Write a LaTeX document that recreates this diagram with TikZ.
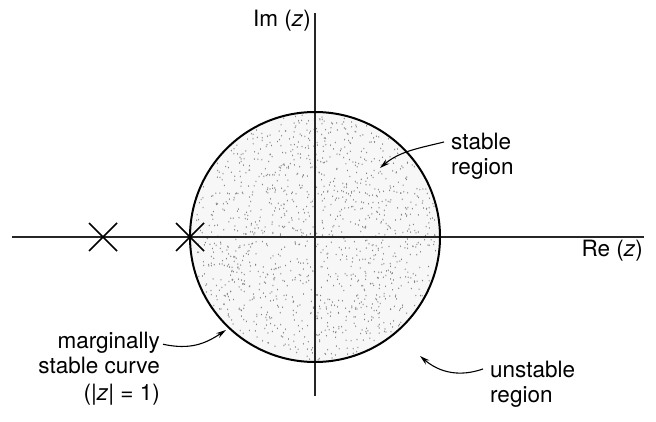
\documentclass[tikz,border=0pt]{standalone}
\usepackage{fontspec}
\setmainfont{TeX Gyre Heros}
\usetikzlibrary{arrows.meta,calc}
\begin{document}
\begin{tikzpicture}[x=1pt,y=-1pt,
  lbl/.style={font=\fontsize{22.5}{26}\selectfont, inner sep=0pt},
  axis/.style={line width=1.3pt, black!85},
  cross/.style={line width=1.5pt},
  pointer/.style={line width=1.1pt, -{Stealth[length=10pt,width=5.5pt]}}]
\useasboundingbox (0,0) rectangle (656,422);
% stippled disc
\fill[black!3] (315,237) circle (125);
\pgfmathsetseed{7}
\foreach \i in {1,...,1300}{
  \pgfmathsetmacro\rr{123*sqrt(rnd)}
  \pgfmathsetmacro\aa{360*rnd}
  \fill[black!50] ($(315,237)+(\aa:\rr)$) ellipse (0.55 and 0.9);
}
% axes
\coordinate (xl) at (12,237);
\coordinate (xr) at (644,237);
\coordinate (yt) at (315,13);
\coordinate (yb) at (315,396);
\draw[axis] (xl) -- (xr);
\draw[axis] (yt) -- (yb);
% unit circle
\draw[line width=2pt] (315,237) circle (125);
% poles
\coordinate (p1) at (103,237);
\coordinate (p2) at (190,237);
\draw[cross] ($(p1)+(-14,-14)$) -- ($(p1)+(14,14)$) ($(p1)+(-14,14)$) -- ($(p1)+(14,-14)$);
\draw[cross] ($(p2)+(-14,-14)$) -- ($(p2)+(14,14)$) ($(p2)+(-14,14)$) -- ($(p2)+(14,-14)$);
% labels
\node[lbl, anchor=base east] (im) at (311,27) {Im (\textit{z})};
\node[lbl, anchor=base east] (re) at (643,257) {Re (\textit{z})};
\node[lbl, anchor=base west] (st1) at (451,150) {stable};
\node[lbl, anchor=base west] (st2) at (451,175) {region};
\node[lbl, anchor=base west] (un1) at (490,377) {unstable};
\node[lbl, anchor=base west] (un2) at (490,402) {region};
\node[lbl, anchor=base east] (mg1) at (160,348) {marginally};
\node[lbl, anchor=base east] (mg2) at (160,373) {stable curve};
\node[lbl, anchor=base east] (mg3) at (160,400) {(|\textit{z}| = 1)};
% pointers
\coordinate (stip) at (380,168);
\coordinate (utip) at (420,356);
\coordinate (mtip) at (226,330);
\draw[pointer] ($(st1.west)+(-7,0)$) .. controls (420,148) and (400,151) .. (stip);
\draw[pointer] ($(un1.west)+(-7,0)$) .. controls (460,377) and (440,373) .. (utip);
\draw[pointer] ($(mg1.east)+(3,2)$) .. controls (190,350) and (205,344) .. (mtip);
\end{tikzpicture}
\end{document}
